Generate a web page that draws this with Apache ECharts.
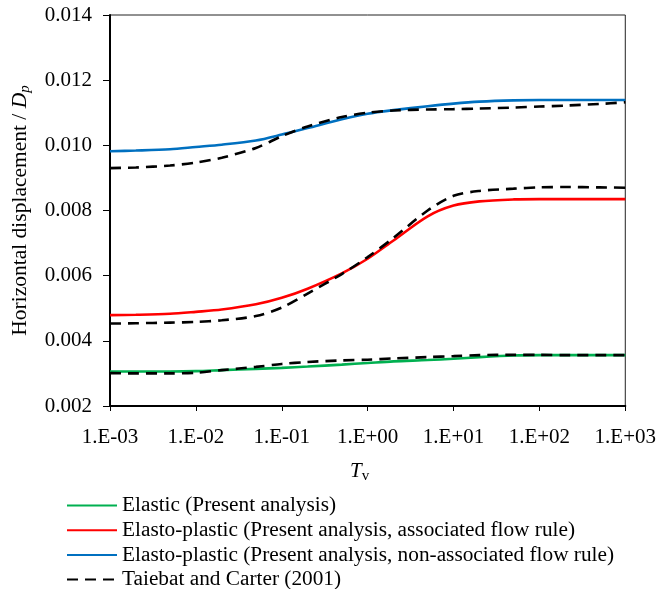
<!DOCTYPE html>
<html>
<head>
<meta charset="utf-8">
<script src="https://cdn.jsdelivr.net/npm/echarts@6/dist/echarts.min.js"></script>
<style>html,body{margin:0;padding:0;background:#fff}#c{width:659px;height:589px}</style>
</head>
<body>
<div id="c"></div>
<script>
const tv = [0.001, 0.002, 0.005, 0.01, 0.02, 0.05, 0.1, 0.2, 0.5, 1, 2, 5, 10, 20, 50, 100, 200, 500, 1000];
const elastic =      [0.00306,0.00306,0.00306,0.00307,0.00310,0.00314,0.00317,0.00321,0.00327,0.00332,0.00337,0.00341,0.00345,0.00350,0.00355,0.00356,0.00356,0.00356,0.00356];
const assoc =        [0.00479,0.00480,0.00483,0.00489,0.00496,0.00512,0.00532,0.00560,0.00607,0.00652,0.00708,0.00782,0.00815,0.00828,0.00834,0.00835,0.00835,0.00835,0.00835];
const nonAssoc =     [0.00982,0.00984,0.00988,0.00995,0.01002,0.01015,0.01033,0.01053,0.01080,0.01097,0.01108,0.01120,0.01128,0.01134,0.01138,0.01139,0.01139,0.01139,0.01139];
const taiebatEl =    [0.00301,0.00300,0.00300,0.00302,0.00310,0.00320,0.00329,0.00335,0.00340,0.00342,0.00346,0.00350,0.00353,0.00356,0.00357,0.00357,0.00356,0.00356,0.00356];
const taiebatAssoc = [0.00453,0.00454,0.00456,0.00458,0.00463,0.00476,0.00502,0.00545,0.00605,0.00657,0.00716,0.00800,0.00845,0.00860,0.00867,0.00871,0.00872,0.00871,0.00870];
const taiebatNon =   [0.00930,0.00932,0.00938,0.00947,0.00962,0.00992,0.01028,0.01058,0.01087,0.01100,0.01107,0.01110,0.01111,0.01113,0.01116,0.01119,0.01122,0.01127,0.01132];
const seriesNames = ['Elastic (Present analysis)','Elasto-plastic (Present analysis, associated flow rule)','Elasto-plastic (Present analysis, non-associated flow rule)','Taiebat and Carter (2001)'];
const yTicks = {min:0.002, max:0.014, interval:0.002};

const pair = arr => tv.map((t,i)=>[t, arr[i]]);
const font = 'Liberation Serif';
const dash = {type:[11,7], width:2.6, color:'#000'};
const solid = c => ({color:c, width:2.6});

const chart = echarts.init(document.getElementById('c'), null, {renderer:'canvas'});
const mk = (name, data, ls, color, z) => ({name, type:'line', data:pair(data), symbol:'none', showSymbol:false, smooth:0.3, lineStyle:ls, itemStyle:{color}, z});
chart.setOption({
  animation:false,
  grid:{left:110, top:15, width:518, height:391, show:true, borderColor:'#222', borderWidth:1, containLabel:false},
  xAxis:{
    type:'log', logBase:10, min:0.001, max:1000,
    name:'{i|T}{s|v}', nameLocation:'middle', nameGap:53,
    nameTextStyle:{padding:[0,16,0,0], rich:{i:{fontFamily:font, fontStyle:'italic', fontSize:21, color:'#000'}, s:{fontFamily:font, fontSize:15, color:'#000', padding:[10,0,0,0]}}},
    axisLine:{lineStyle:{color:'#000', width:2}},
    axisTick:{show:true, inside:false, length:5, lineStyle:{color:'#000', width:1}},
    minorTick:{show:false},
    splitLine:{show:false},
    axisLabel:{fontFamily:font, fontSize:21, color:'#000', margin:21,
      formatter:function(v){const e=Math.round(Math.log10(v)); const s=e<0?'-':'+'; const a=Math.abs(e); return '1.E'+s+(a<10?'0':'')+a;}}
  },
  yAxis:{
    type:'value', min:yTicks.min, max:yTicks.max, interval:yTicks.interval,
    name:'Horizontal displacement / {i|D}{s|p}', nameLocation:'middle', nameGap:77,
    nameTextStyle:{fontFamily:font, fontSize:21.5, color:'#000', rich:{i:{fontFamily:font, fontStyle:'italic', fontSize:21.5, color:'#000'}, s:{fontFamily:font, fontStyle:'italic', fontSize:15, color:'#000', padding:[10,0,0,0]}}},
    axisLine:{show:true, lineStyle:{color:'#000', width:2}},
    axisTick:{show:true, inside:false, length:7, lineStyle:{color:'#000', width:1}},
    splitLine:{show:false},
    axisLabel:{fontFamily:font, fontSize:21, color:'#000', margin:18, formatter:v=>v.toFixed(3)}
  },
  legend:{
    orient:'vertical', left:66, top:495, height:200, padding:0, itemWidth:50, itemHeight:14, itemGap:3.7,
    itemStyle:{color:'rgba(0,0,0,0)', borderColor:'rgba(0,0,0,0)', borderWidth:0},
    textStyle:{fontFamily:font, fontSize:21.3, color:'#000'},
    data:seriesNames.map(n=>({name:n}))
  },
  series:[
    mk(seriesNames[0], elastic, solid('#00B050'), '#00B050', 2),
    mk(seriesNames[1], assoc, solid('#FF0000'), '#FF0000', 2),
    mk(seriesNames[2], nonAssoc, solid('#0070C0'), '#0070C0', 2),
    mk(seriesNames[3], taiebatEl, dash, '#000', 3),
    mk(seriesNames[3], taiebatAssoc, dash, '#000', 3),
    mk(seriesNames[3], taiebatNon, dash, '#000', 3)
  ]
});
</script>
</body>
</html>
